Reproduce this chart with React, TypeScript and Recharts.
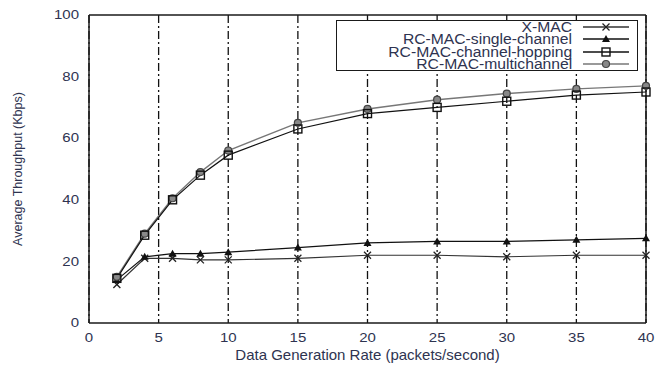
import {
  LineChart,
  Line,
  XAxis,
  YAxis,
  CartesianGrid,
  Label,
} from "recharts";

const rates = [2, 4, 6, 8, 10, 15, 20, 25, 30, 35, 40];
const xMac = [12.5, 21, 21, 20.5, 20.5, 21, 22, 22, 21.5, 22, 22];
const singleChannel = [14, 21.5, 22.5, 22.5, 23, 24.5, 26, 26.5, 26.5, 27, 27.5];
const channelHopping = [14.5, 28.5, 40, 48, 54.5, 63, 68, 70, 72, 74, 75];
const multichannel = [15, 29, 40.5, 49, 56, 65, 69.5, 72.5, 74.5, 76, 77];

const xTicks = [0, 5, 10, 15, 20, 25, 30, 35, 40];
const yTicks = [0, 20, 40, 60, 80, 100];

const seriesNames = [
  "X-MAC",
  "RC-MAC-single-channel",
  "RC-MAC-channel-hopping",
  "RC-MAC-multichannel",
];

const data = rates.map((r, i) => ({
  rate: r,
  xmac: xMac[i],
  single: singleChannel[i],
  hopping: channelHopping[i],
  multi: multichannel[i],
}));

const FONT = "'Liberation Sans', Arial, Helvetica, sans-serif";
const TEXT = "#2e3350";
const AXIS = "#1a1a1a";

// the source image is stretched sideways, so tick text is widened a bit
const XTick = ({ x, y, payload }: any) => (
  <text
    transform={`translate(${x},${y}) scale(1.25,1)`}
    textAnchor="middle"
    dy="0.71em"
    fill={TEXT}
    fontSize={12}
    fontFamily={FONT}
  >
    {payload.value}
  </text>
);

const YTick = ({ x, y, payload }: any) => (
  <text
    transform={`translate(${x},${y}) scale(1.25,1)`}
    textAnchor="end"
    dy="0.355em"
    fill={TEXT}
    fontSize={12}
    fontFamily={FONT}
  >
    {payload.value}
  </text>
);

// marker shapes
function Marker({ kind, cx, cy }: { kind: string; cx: number; cy: number }) {
  if (kind === "x") {
    return (
      <g stroke="#222" strokeWidth={1.3}>
        <line x1={cx - 3.5} y1={cy - 3.5} x2={cx + 3.5} y2={cy + 3.5} />
        <line x1={cx - 3.5} y1={cy + 3.5} x2={cx + 3.5} y2={cy - 3.5} />
      </g>
    );
  }
  if (kind === "tri") {
    return (
      <polygon
        points={`${cx},${cy - 4} ${cx - 4},${cy + 3} ${cx + 4},${cy + 3}`}
        fill="#111"
      />
    );
  }
  if (kind === "sq") {
    return (
      <rect x={cx - 4} y={cy - 4} width={8} height={8} fill="none" stroke="#111" strokeWidth={1.4} />
    );
  }
  return <circle cx={cx} cy={cy} r={3.5} fill="#888" stroke="#444" strokeWidth={1.2} />;
}

const dotFor = (kind: string) => (props: any) => {
  const { cx, cy, index } = props;
  if (cx == null || cy == null) return <g key={index} />;
  return <Marker key={index} kind={kind} cx={cx} cy={cy} />;
};

const legendRows = [
  { name: seriesNames[0], kind: "x", color: "#333" },
  { name: seriesNames[1], kind: "tri", color: "#111" },
  { name: seriesNames[2], kind: "sq", color: "#111" },
  { name: seriesNames[3], kind: "circ", color: "#777" },
];

function LegendBox() {
  return (
    <div
      style={{
        position: "absolute",
        left: 336,
        top: 20,
        width: 300,
        height: 49,
        border: "1.5px solid #1a1a1a",
        background: "#fff",
        fontFamily: FONT,
        fontSize: 14,
        color: TEXT,
      }}
    >
      {legendRows.map((r, i) => (
        <div
          key={r.name}
          style={{
            position: "absolute",
            top: i * 12.4 - 1,
            left: 0,
            width: 300,
            height: 14,
            lineHeight: "14px",
          }}
        >
          <span
            style={{
              position: "absolute",
              right: 65,
              whiteSpace: "nowrap",
              transform: "scaleX(1.12)",
              transformOrigin: "right center",
            }}
          >
            {r.name}
          </span>
          <svg width={46} height={14} style={{ position: "absolute", left: 246, top: 0 }}>
            <line x1={0} y1={7} x2={46} y2={7} stroke={r.color} strokeWidth={1.3} />
            <Marker kind={r.kind} cx={23} cy={7} />
          </svg>
        </div>
      ))}
    </div>
  );
}

export default function App() {
  return (
    <div style={{ position: "absolute", left: 0, top: 0, width: 659, height: 365, background: "#fff" }}>
      <LineChart
        width={659}
        height={365}
        data={data}
        margin={{ top: 15, right: 13, bottom: 0, left: 0 }}
      >
        <CartesianGrid
          horizontal={false}
          stroke="#111"
          strokeWidth={1.3}
          strokeDasharray="8 3 2 3"
        />
        <XAxis
          dataKey="rate"
          type="number"
          domain={[0, 40]}
          ticks={xTicks}
          height={42}
          tickLine={false}
          tickSize={0}
          tickMargin={10}
          axisLine={{ stroke: AXIS, strokeWidth: 1.5 }}
          tick={<XTick />}
        >
          <Label
            value="Data Generation Rate (packets/second)"
            position="insideBottom"
            offset={5}
            style={{ fill: TEXT, fontSize: 15, fontFamily: FONT }}
          />
        </XAxis>
        <XAxis
          xAxisId="top"
          orientation="top"
          type="number"
          domain={[0, 40]}
          ticks={xTicks}
          mirror
          tick={false}
          tickSize={7}
          tickLine={{ stroke: AXIS, strokeWidth: 1.3 }}
          axisLine={{ stroke: AXIS, strokeWidth: 1.5 }}
        />
        <YAxis
          type="number"
          domain={[0, 100]}
          ticks={yTicks}
          width={89}
          tickLine={false}
          tickSize={0}
          tickMargin={10}
          axisLine={{ stroke: AXIS, strokeWidth: 1.5 }}
          tick={<YTick />}
        >
          <Label
            value="Average Throughput (Kbps)"
            angle={-90}
            position="insideLeft"
            offset={18}
            style={{ fill: TEXT, fontSize: 12.5, fontFamily: FONT, textAnchor: "middle" }}
          />
        </YAxis>
        <YAxis
          yAxisId="leftTicks"
          type="number"
          domain={[0, 100]}
          ticks={yTicks}
          mirror
          tick={false}
          tickSize={8}
          tickLine={{ stroke: AXIS, strokeWidth: 1.3 }}
          axisLine={false}
        />
        <YAxis
          yAxisId="right"
          orientation="right"
          type="number"
          domain={[0, 100]}
          ticks={yTicks}
          mirror
          tick={false}
          tickSize={7}
          tickLine={{ stroke: AXIS, strokeWidth: 1.3 }}
          axisLine={{ stroke: AXIS, strokeWidth: 1.5 }}
        />
        <Line
          dataKey="xmac"
          name={seriesNames[0]}
          stroke="#333"
          strokeWidth={1.2}
          dot={dotFor("x")}
          isAnimationActive={false}
        />
        <Line
          dataKey="single"
          name={seriesNames[1]}
          stroke="#111"
          strokeWidth={1.2}
          dot={dotFor("tri")}
          isAnimationActive={false}
        />
        <Line
          dataKey="multi"
          name={seriesNames[3]}
          stroke="#777"
          strokeWidth={1.4}
          dot={dotFor("circ")}
          isAnimationActive={false}
        />
        <Line
          dataKey="hopping"
          name={seriesNames[2]}
          stroke="#111"
          strokeWidth={1.2}
          dot={dotFor("sq")}
          isAnimationActive={false}
        />
      </LineChart>
      <LegendBox />
    </div>
  );
}
